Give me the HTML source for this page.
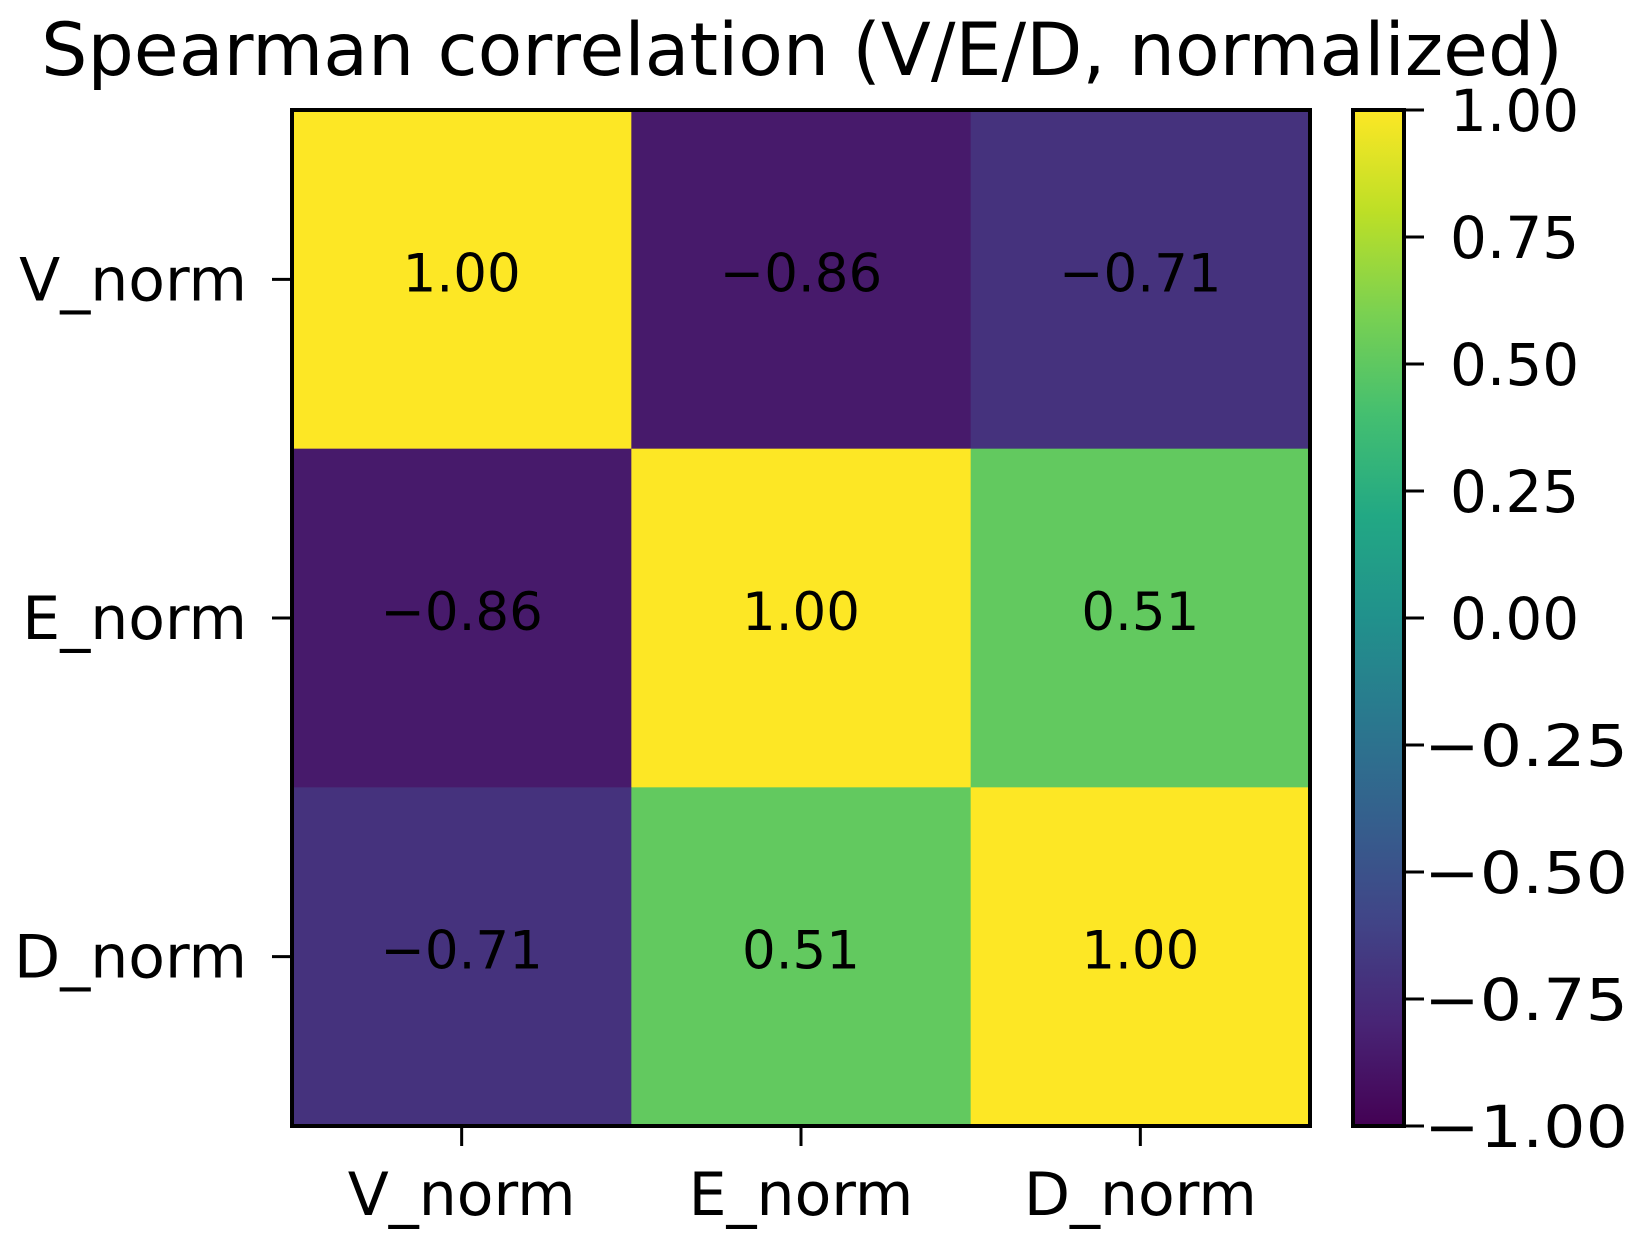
<!DOCTYPE html>
<html><head><meta charset="utf-8"><style>
body{margin:0;background:#fff;}
svg text{font-family:"DejaVu Sans","Liberation Sans",sans-serif;fill:#000;}
</style></head><body>
<svg id="chart" width="1642" height="1254" xmlns="http://www.w3.org/2000/svg">
<defs><linearGradient id="vir" x1="0" y1="1" x2="0" y2="0">
<stop offset="0" stop-color="#440154"/><stop offset="0.1" stop-color="#482475"/><stop offset="0.2" stop-color="#414487"/><stop offset="0.3" stop-color="#355f8d"/><stop offset="0.4" stop-color="#2a788e"/><stop offset="0.5" stop-color="#21918c"/><stop offset="0.6" stop-color="#22a884"/><stop offset="0.7" stop-color="#44bf70"/><stop offset="0.8" stop-color="#7ad151"/><stop offset="0.9" stop-color="#bddf26"/><stop offset="1" stop-color="#fde725"/>
</linearGradient></defs>
<text x="802" y="75" font-size="73" text-anchor="middle">Spearman correlation (V/E/D, normalized)</text>
<g id="cells"></g>
<rect x="292" y="110" width="1018" height="1016" fill="none" stroke="#000" stroke-width="4"/>
<g id="axes"></g>
<rect x="1353" y="110" width="51" height="1016" fill="url(#vir)" stroke="#000" stroke-width="4"/>
<g id="cbar"></g>
</svg>
<script>
const categories = ["V_norm","E_norm","D_norm"];
const row0 = [1.00,-0.86,-0.71];
const row1 = [-0.86,1.00,0.51];
const row2 = [-0.71,0.51,1.00];
const cbarTicks = [1.00,0.75,0.50,0.25,0.00,-0.25,-0.50,-0.75,-1.00];
const matrix=[row0,row1,row2];
const L=292,T=110,W=1018,H=1016,n=categories.length;
const cw=W/n,ch=H/n;
const vir=[[68,1,84],[72,36,117],[65,68,135],[53,95,141],[42,120,142],[33,145,140],[34,168,132],[68,191,112],[122,209,81],[189,223,38],[253,231,37]];
function color(v){let t=(v+1)/2*10;let i=Math.min(9,Math.floor(t)),f=t-i;const a=vir[i],b=vir[i+1];return `rgb(${a.map((c,k)=>Math.round(c+(b[k]-c)*f)).join(',')})`;}
const NS="http://www.w3.org/2000/svg";
function mk(tag,attrs,parent){const e=document.createElementNS(NS,tag);for(const k in attrs)e.setAttribute(k,attrs[k]);parent.appendChild(e);return e;}
const cells=document.getElementById('cells'),axes=document.getElementById('axes'),cb=document.getElementById('cbar');
function fmt(v){return (v<0?'\u2212':'')+Math.abs(v).toFixed(2);}
matrix.forEach((row,r)=>row.forEach((v,c)=>{
 const rc=mk('rect',{x:L+c*cw,y:T+r*ch,width:cw+0.5,height:ch+0.5,fill:color(v)},cells);
 
 
 const t=mk('text',{x:L+(c+0.5)*cw,y:T+(r+0.5)*ch+12,'font-size':53,'text-anchor':'middle'},cells);
 t.textContent=fmt(v);
 
 
}));
categories.forEach((name,i)=>{
 const x=L+(i+0.5)*cw,y=T+(i+0.5)*ch;
 const tk=mk('line',{x1:x,y1:T+H,x2:x,y2:T+H+20,stroke:'#000','stroke-width':3},axes);
 
 
 const tx=mk('text',{x:x,y:1215,'font-size':60,'text-anchor':'middle'},axes);
 tx.textContent=name;
 
 
 const ty=mk('line',{x1:L-20,y1:y,x2:L,y2:y,stroke:'#000','stroke-width':3},axes);
 
 
 const yl=mk('text',{x:247,y:y+21,'font-size':60,'text-anchor':'end'},axes);
 yl.textContent=name;
 
 
});
cbarTicks.forEach(v=>{
 const y=T+(1-(v+1)/2)*H;
 const l=mk('line',{x1:1404,y1:y,x2:1424,y2:y,stroke:'#000','stroke-width':3},cb);
 
 
 const t=mk('text',{x:1450,y:y+21,'font-size':58},cb);
 t.textContent=fmt(v);
 if(v<0){t.setAttribute('x',1424);t.setAttribute('textLength',204);t.setAttribute('lengthAdjust','spacingAndGlyphs');}
 
 
});
</script>
</body></html>
